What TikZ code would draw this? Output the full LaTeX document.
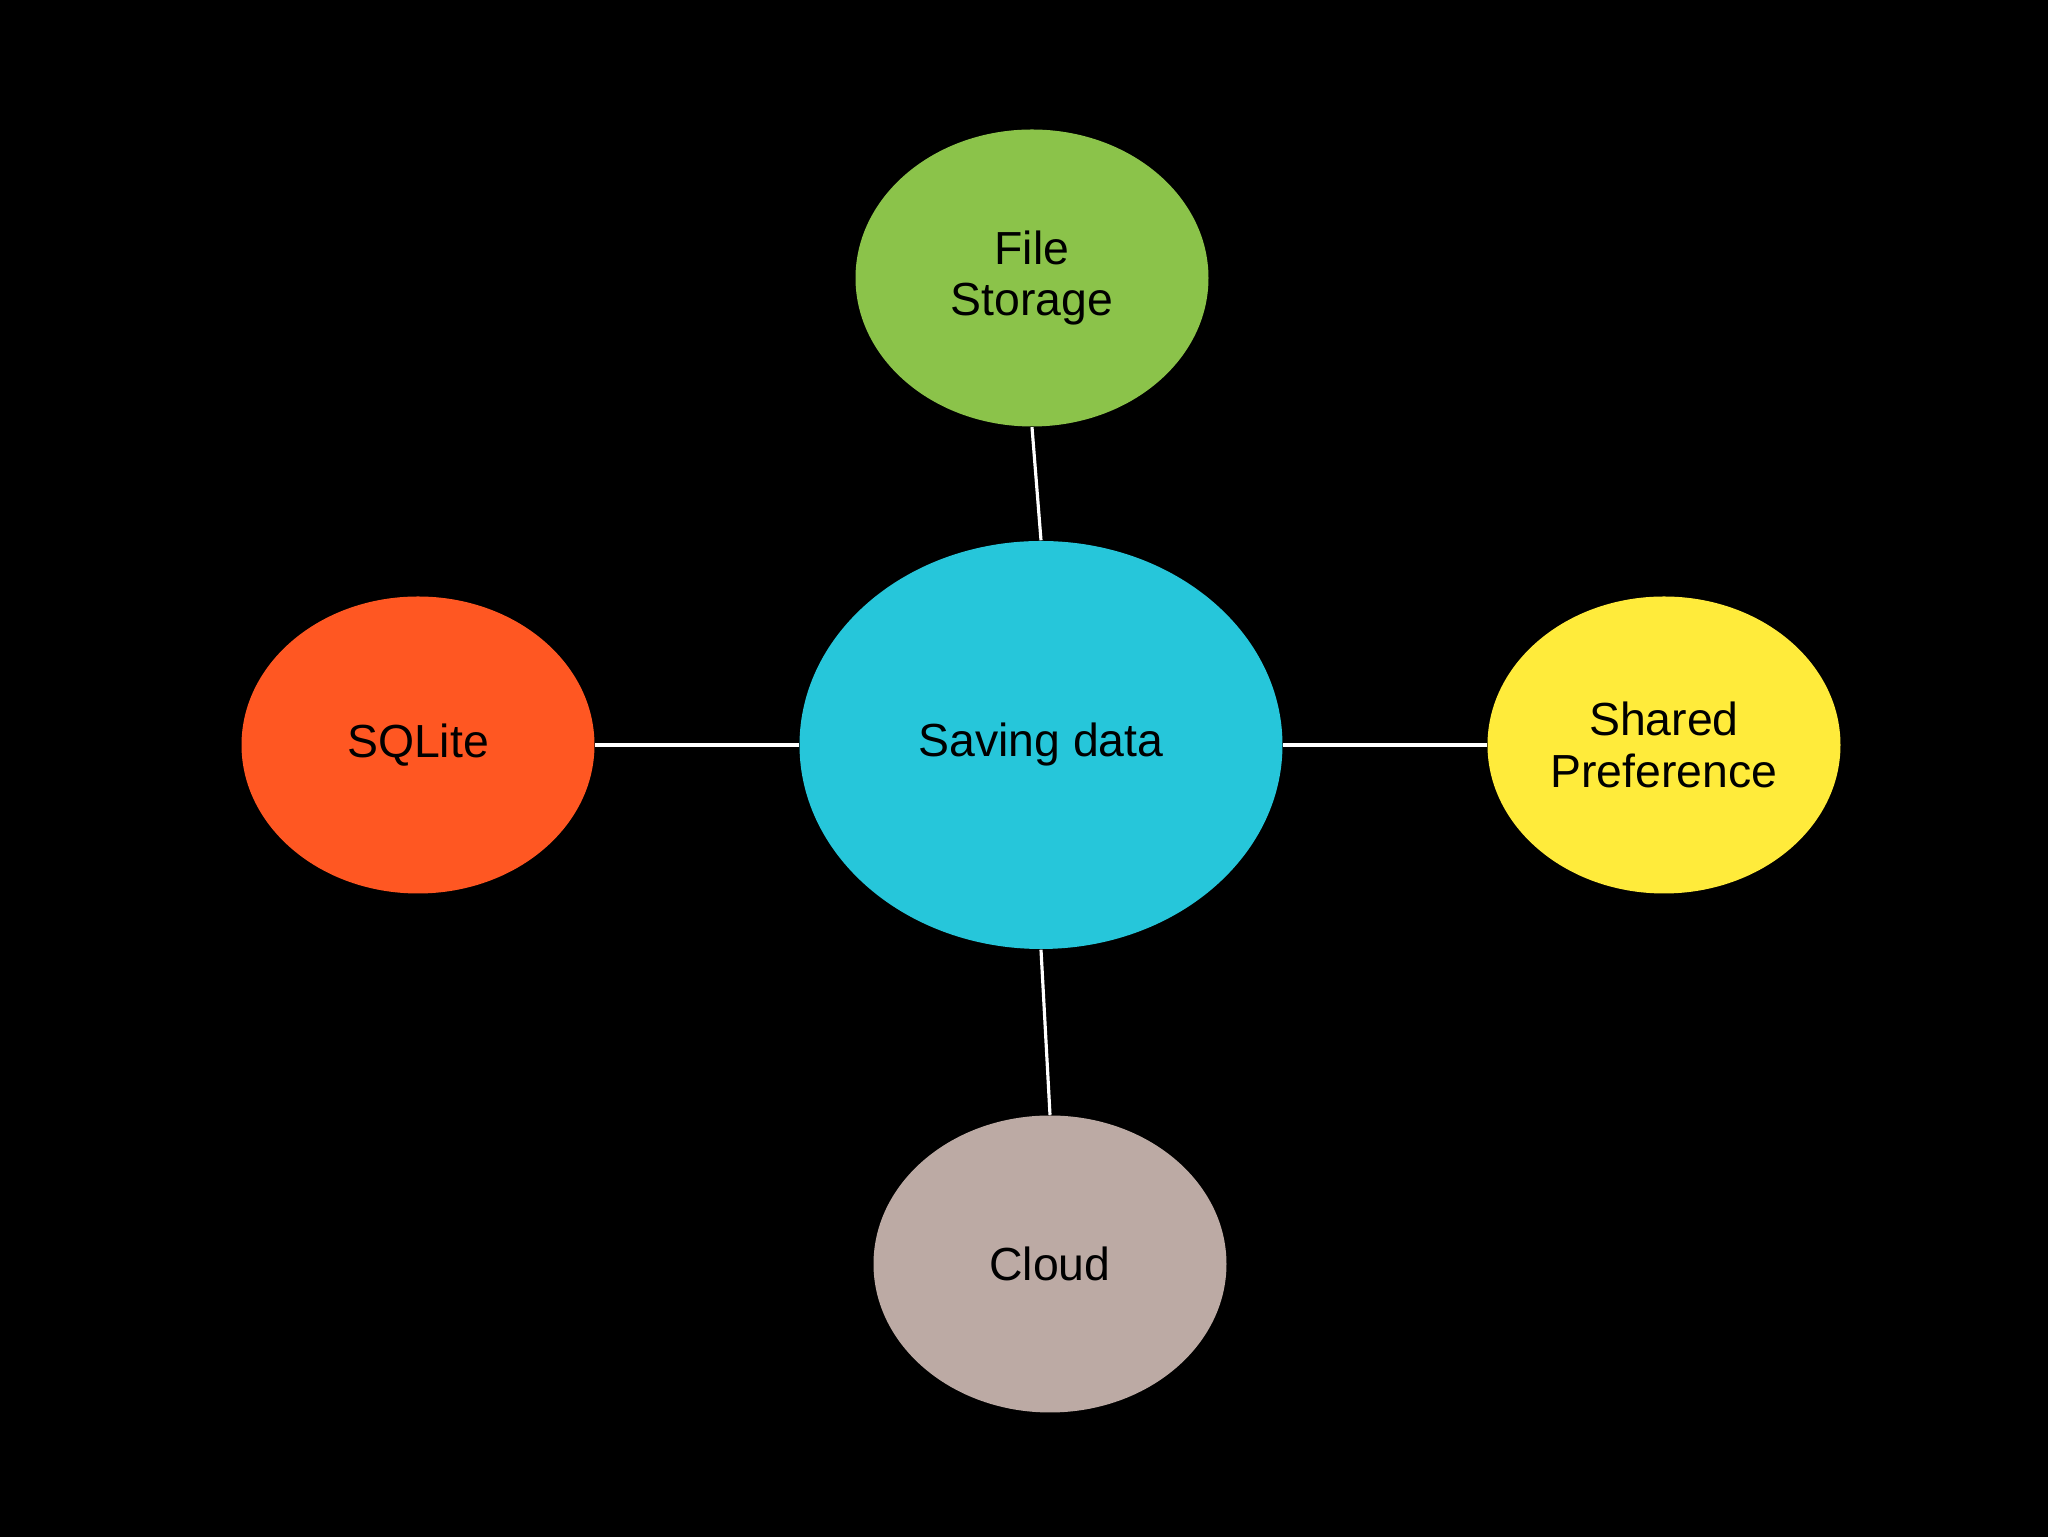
\documentclass[tikz,border=0pt]{standalone}
\usepackage{fontspec}
\setmainfont{Liberation Sans}
\usetikzlibrary{shapes.geometric}
\definecolor{filegreen}{HTML}{8BC34A}
\definecolor{savecyan}{HTML}{26C6DA}
\definecolor{sqlorange}{HTML}{FF5722}
\definecolor{prefyellow}{HTML}{FFEB3B}
\definecolor{cloudgray}{HTML}{BCAAA4}
\begin{document}
\begin{tikzpicture}[font=\fontsize{13.2}{14.7}\selectfont,
  bubble/.style={ellipse,inner sep=0pt,minimum width=3.53cm,minimum height=2.97cm,align=center,text=black},
  link/.style={draw=white,line width=0.9pt}]
\fill[black] (0,0) rectangle (20.48,-15.37);
\useasboundingbox (0,0) rectangle (20.48,-15.37);
\node[bubble,fill=savecyan,minimum width=4.83cm,minimum height=4.08cm] (save) at (10.41,-7.45) {Saving data};
\node[bubble,fill=filegreen] (file) at (10.32,-2.78) {File\\Storage};
\node[bubble,fill=sqlorange] (sqlite) at (4.18,-7.45) {SQLite};
\node[bubble,fill=prefyellow] (pref) at (16.64,-7.45) {Shared\\Preference};
\node[bubble,fill=cloudgray] (cloud) at (10.50,-12.64) {Cloud};
\draw[link] (file.south) -- (save.north);
\draw[link] (sqlite.east) -- (save.west);
\draw[link] (save.east) -- (pref.west);
\draw[link] (save.south) -- (cloud.north);
\end{tikzpicture}
\end{document}
